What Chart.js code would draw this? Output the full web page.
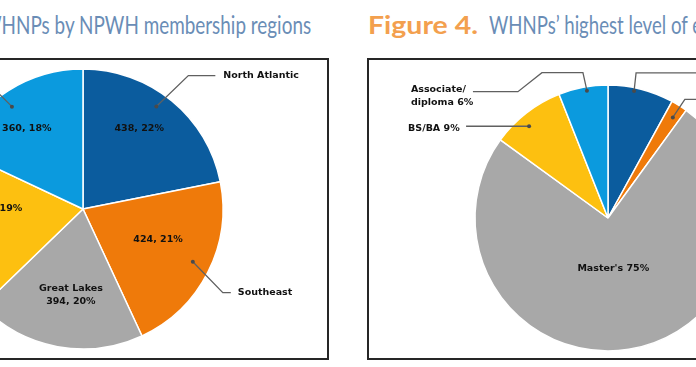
<!DOCTYPE html>
<html><head><meta charset="utf-8">
<script src="https://cdn.jsdelivr.net/npm/chart.js@4"></script>
<style>
html,body{margin:0;padding:0;background:#fff;}
body{width:696px;height:367px;overflow:hidden;position:relative;}
.tp{position:absolute;top:7px;white-space:nowrap;font-family:Lato,"Open Sans",sans-serif;font-size:25px;line-height:34px;color:#6a8db6;transform-origin:0 50%;}
.fig{color:#f3a04e;font-weight:700;}
.box{position:absolute;top:58px;height:302px;border:2px solid #262626;box-sizing:border-box;}
.cw{position:absolute;}
</style></head>
<body>
<div class="tp fig" id="t1a">Figure 3.</div>
<div class="tp" id="t1b">WHNPs by NPWH membership regions</div>
<div class="tp fig" id="t2a">Figure 4.</div>
<div class="tp" id="t2b">WHNPs’ highest level of education</div>
<div class="box" style="left:-158px;width:487px;"></div>
<div class="box" style="left:367px;width:487px;"></div>
<div class="cw" style="left:-200px;top:58px;width:530px;height:302px;"><canvas id="c1"></canvas></div>
<div class="cw" style="left:367px;top:58px;width:533px;height:302px;"><canvas id="c2"></canvas></div>
<script>
// ---- Data: Figure 3 (regions) ----
const regionNames = ["North Atlantic", "Southeast", "Great Lakes", "Region 4", "Region 5"];
const regionCounts = [438, 424, 394, 385, 360];
const regionPercents = [22, 21, 20, 19, 18];
const regionColors = ["#0b5c9e", "#ef7a0a", "#a8a8a8", "#fdc010", "#0b9ade"];

// ---- Data: Figure 4 (education) ----
const eduNames = ["Doctorate", "Post-master's", "Master's", "BS/BA", "Associate/diploma"];
const eduPercents = [8, 2, 75, 9, 6];
const eduColors = ["#0b5c9e", "#ef7a0a", "#a8a8a8", "#fdc010", "#0b9ade"];

// ---- Title fitting (condensed look of the original typeface) ----
(function () {
  const mc = document.createElement('canvas').getContext('2d');
  const REG = '400 25px Lato', BOLD = '700 25px Lato';
  function w(t, f) { mc.font = f; return mc.measureText(t).width; }
  const sB = 110 / w('Figure 4.', BOLD);
  const sR = 199 / w('WHNPs’ highest level of', REG);
  function put(id, left, s) {
    const el = document.getElementById(id);
    el.style.left = left + 'px';
    el.style.transform = 'scaleX(' + s + ')';
  }
  put('t2a', 368, sB);
  put('t2b', 489, sR);
  const sL = 310 / w('HNPs by NPWH membership regions', REG);
  const w1b = w('WHNPs by NPWH membership regions', REG) * sL;
  put('t1b', 312 - w1b, sL);
  put('t1a', 312 - w1b - 11 - 110, sB);
})();

const FONT = 'bold 9.5px "DejaVu Sans", sans-serif';
const LINE = '#606060';

const pieLabels = {
  id: 'pieLabels',
  afterDatasetsDraw(chart, args, opts) {
    const ctx = chart.ctx;
    const meta = chart.getDatasetMeta(0);
    ctx.save();
    ctx.font = FONT;
    ctx.fillStyle = '#111';
    (opts.inner || []).forEach(it => {
      const p = meta.data[it.index].getProps(['x','y','startAngle','endAngle','outerRadius'], true);
      const a = (p.startAngle + p.endAngle) / 2 + (it.da || 0) * Math.PI / 180;
      const cx = p.x + Math.cos(a) * p.outerRadius * it.rf;
      const cy = p.y + Math.sin(a) * p.outerRadius * it.rf;
      ctx.textAlign = 'center';
      ctx.textBaseline = 'middle';
      const lh = 13;
      const y0 = cy - (it.lines.length - 1) * lh / 2;
      it.lines.forEach((t, i) => ctx.fillText(t, cx, y0 + i * lh));
    });
    (opts.leaders || []).forEach(it => {
      const p = meta.data[it.index].getProps(['x','y','startAngle','endAngle','outerRadius'], true);
      const a = (p.startAngle + p.endAngle) / 2 + (it.da || 0) * Math.PI / 180;
      const dx = p.x + Math.cos(a) * p.outerRadius * it.rf;
      const dy = p.y + Math.sin(a) * p.outerRadius * it.rf;
      ctx.strokeStyle = LINE;
      ctx.lineWidth = 1.3;
      ctx.beginPath();
      ctx.moveTo(dx, dy);
      let ex = dx, ey = dy;
      it.path.forEach(pt => { ex = dx + pt[0]; ey = dy + pt[1]; ctx.lineTo(ex, ey); });
      ctx.stroke();
      ctx.fillStyle = '#4a4a4a';
      ctx.beginPath();
      ctx.arc(dx, dy, 2, 0, Math.PI * 2);
      ctx.fill();
      if (it.lines) {
        ctx.fillStyle = '#111';
        ctx.textAlign = 'left';
        ctx.textBaseline = 'middle';
        it.lines.forEach((t, i) => ctx.fillText(t, ex + it.tx, ey + it.ty + i * 13));
      }
    });
    ctx.restore();
  }
};

function lbl(i) { return regionCounts[i] + ', ' + regionPercents[i] + '%'; }

new Chart(document.getElementById('c1'), {
  type: 'pie',
  data: {
    labels: regionNames,
    datasets: [{ data: regionCounts, backgroundColor: regionColors, borderColor: '#fff', borderWidth: 1.5, radius: 140 }]
  },
  options: {
    responsive: true, maintainAspectRatio: false, animation: false,
    layout: { padding: { left: 143, right: 107, top: 11, bottom: 11 } },
    plugins: {
      legend: { display: false }, tooltip: { enabled: false },
      pieLabels: {
        inner: [
          { index: 0, da: -4.4, rf: 0.70, lines: [lbl(0)] },
          { index: 1, da: -4.5, rf: 0.58, lines: [lbl(1)] },
          { index: 2, da: -2.5, rf: 0.62, lines: [regionNames[2], lbl(2)] },
          { index: 3, da: 10, rf: 0.61, lines: [lbl(3)] },
          { index: 4, da: -2.6, rf: 0.70, lines: [lbl(4)] }
        ],
        leaders: [
          { index: 0, da: -3.8, rf: 0.90, path: [[32,-31],[59,-31]], tx: 8, ty: 0, lines: [regionNames[0]] },
          { index: 1, da: -1.3, rf: 0.87, path: [[30,31],[38,31]], tx: 7, ty: 0, lines: [regionNames[1]] },
          { index: 4, da: -2.4, rf: 0.89, path: [[-31,-31],[-90,-31]] }
        ]
      }
    }
  },
  plugins: [pieLabels]
});

new Chart(document.getElementById('c2'), {
  type: 'pie',
  data: {
    labels: eduNames,
    datasets: [{ data: eduPercents, backgroundColor: eduColors, borderColor: '#fff', borderWidth: 1.5, radius: 133 }]
  },
  options: {
    responsive: true, maintainAspectRatio: false, animation: false,
    layout: { padding: { left: 108, right: 159, top: 27, bottom: 9 } },
    plugins: {
      legend: { display: false }, tooltip: { enabled: false },
      pieLabels: {
        inner: [
          { index: 2, da: 3, rf: 0.38, lines: [eduNames[2] + ' ' + eduPercents[2] + '%'] }
        ],
        leaders: [
          { index: 4, da: 1.4, rf: 0.97, path: [[-4,-18],[-45,-18],[-69,1],[-114,1]], tx: -62, ty: -2, lines: ['Associate/', 'diploma ' + eduPercents[4] + '%'] },
          { index: 3, da: -2.9, rf: 0.91, path: [[-63,0]], tx: -58, ty: 2, lines: [eduNames[3] + ' ' + eduPercents[3] + '%'] },
          { index: 0, da: -2.8, rf: 0.975, path: [[2,-18],[250,-18]] },
          { index: 1, da: 0.4, rf: 0.90, path: [[12,-18],[250,-18]] }
        ]
      }
    }
  },
  plugins: [pieLabels]
});
</script>
</body></html>
